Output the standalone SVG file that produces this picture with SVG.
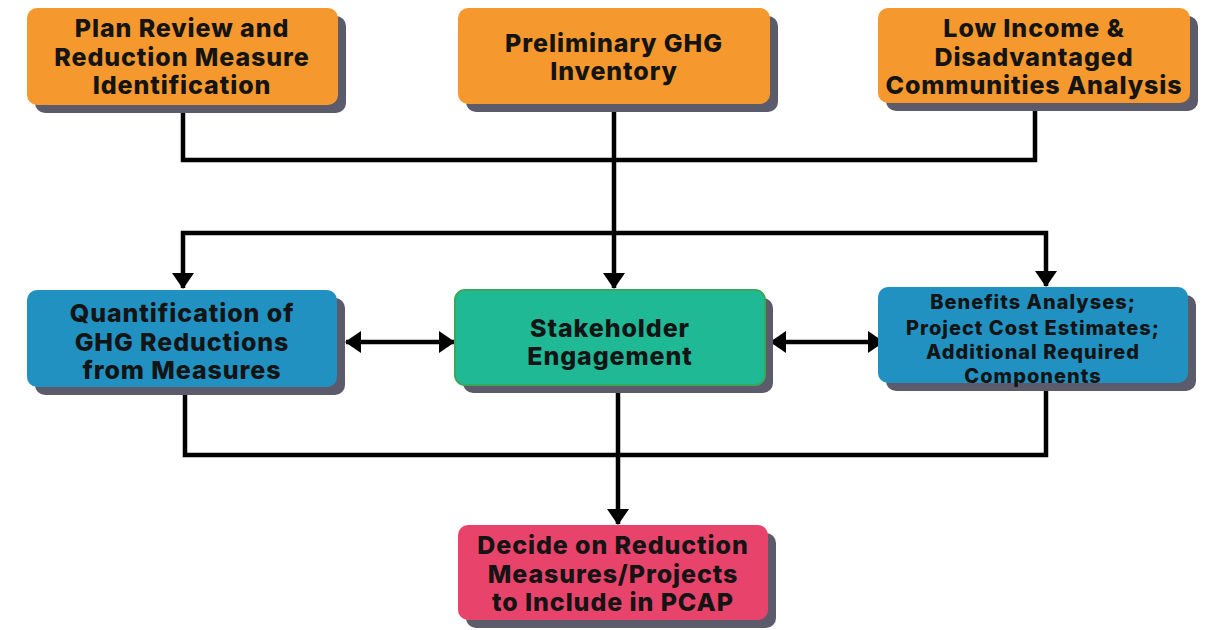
<svg xmlns="http://www.w3.org/2000/svg" width="1215" height="630" viewBox="0 0 1215 630">
<style>
.sh{fill:#5c5b6c}
.or{fill:#f5992e}
.bl{fill:#2191c1}
.gr{fill:#1fb996;stroke:#3aa85a;stroke-width:2}
.rd{fill:#e8436b}
text{font-family:Inter,"Liberation Sans",sans-serif;font-weight:800;fill:#141414;text-anchor:middle}
.t{font-size:25px;letter-spacing:0.9px}
.s{font-size:20px;letter-spacing:1px}
.c{fill:none;stroke:#000;stroke-width:4.5}
</style>
<defs>
<marker id="ah" markerUnits="userSpaceOnUse" markerWidth="16" markerHeight="22" refX="15" refY="11" orient="auto-start-reverse">
<path d="M0,0 L16,11 L0,22 z" fill="#000"/>
</marker>
</defs>
<rect width="1215" height="630" fill="#fff"/>
<g id="connectors">
<path class="c" d="M183,110 V160 H1035 V110"/>
<path class="c" d="M614,110 V288" marker-end="url(#ah)"/>
<path class="c" d="M183,288 V233 H1046 V286" marker-start="url(#ah)" marker-end="url(#ah)"/>
<path class="c" d="M346,342 H454" marker-start="url(#ah)" marker-end="url(#ah)"/>
<path class="c" d="M771,342 H883" marker-start="url(#ah)" marker-end="url(#ah)"/>
<path class="c" d="M185,392 V455 H1046 V388"/>
<path class="c" d="M618,391 V524" marker-end="url(#ah)"/>
</g>
<g id="plan-review">
<rect class="sh" x="35" y="16" width="311" height="97" rx="10"/>
<rect class="or" x="27" y="8" width="311" height="97" rx="10"/>
<text class="t" x="182" y="37">Plan Review and</text>
<text class="t" x="182" y="66">Reduction Measure</text>
<text class="t" x="182" y="94">Identification</text>
</g>
<g id="ghg-inventory">
<rect class="sh" x="466" y="16" width="312" height="96" rx="10"/>
<rect class="or" x="458" y="8" width="312" height="96" rx="10"/>
<text class="t" x="614" y="52">Preliminary GHG</text>
<text class="t" x="614" y="80">Inventory</text>
</g>
<g id="low-income">
<rect class="sh" x="886" y="16" width="312" height="95" rx="10"/>
<rect class="or" x="878" y="8" width="312" height="95" rx="10"/>
<text class="t" x="1034" y="37">Low Income &amp;</text>
<text class="t" x="1034" y="66">Disadvantaged</text>
<text class="t" x="1034" y="94">Communities Analysis</text>
</g>
<g id="quantification">
<rect class="sh" x="35" y="298" width="310" height="97" rx="10"/>
<rect class="bl" x="27" y="290" width="310" height="97" rx="10"/>
<text class="t" x="182" y="322">Quantification of</text>
<text class="t" x="182" y="351">GHG Reductions</text>
<text class="t" x="182" y="379">from Measures</text>
</g>
<g id="stakeholder">
<rect class="sh" x="463" y="298" width="310" height="95" rx="10"/>
<rect class="gr" x="455" y="290" width="310" height="95" rx="10"/>
<text class="t" x="610" y="337">Stakeholder</text>
<text class="t" x="610" y="365">Engagement</text>
</g>
<g id="benefits">
<rect class="sh" x="886" y="295" width="310" height="96" rx="10"/>
<rect class="bl" x="878" y="287" width="310" height="96" rx="10"/>
<text class="s" x="1033" y="309">Benefits Analyses;</text>
<text class="s" x="1033" y="335">Project Cost Estimates;</text>
<text class="s" x="1033" y="359">Additional Required</text>
<text class="s" x="1033" y="383">Components</text>
</g>
<g id="decide">
<rect class="sh" x="466" y="533" width="310" height="95" rx="10"/>
<rect class="rd" x="458" y="525" width="310" height="95" rx="10"/>
<text class="t" x="613" y="554">Decide on Reduction</text>
<text class="t" x="613" y="583">Measures/Projects</text>
<text class="t" x="613" y="611">to Include in PCAP</text>
</g>
</svg>
